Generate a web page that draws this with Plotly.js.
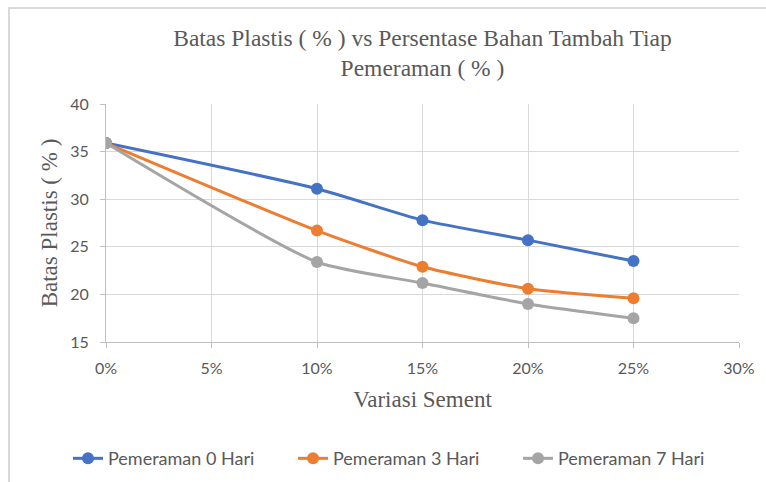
<!DOCTYPE html>
<html>
<head>
<meta charset="utf-8">
<script src="https://cdn.plot.ly/plotly-3.0.1.min.js"></script>
<style>
html,body{margin:0;padding:0;background:#fff;}
#wrap{position:relative;width:766px;height:482px;}
#chart{width:766px;height:482px;}
#frame{position:absolute;left:8px;top:7px;width:770px;height:480px;border-left:2px solid #d9d9d9;border-top:2px solid #d9d9d9;pointer-events:none;}
</style>
</head>
<body>
<div id="wrap"><div id="chart"></div><div id="frame"></div></div>
<script>
const variasi = [0, 0.10, 0.15, 0.20, 0.25];
const hari0 = [35.9, 31.1, 27.8, 25.7, 23.5];
const hari3 = [35.9, 26.7, 22.9, 20.6, 19.6];
const hari7 = [35.9, 23.4, 21.2, 19.0, 17.5];
const seriesNames = ['Pemeraman 0 Hari', 'Pemeraman 3 Hari', 'Pemeraman 7 Hari'];
const colors = ['#4472C4', '#ED7D31', '#A5A5A5'];

const data = [hari0, hari3, hari7].map((ys, i) => ({
  type: 'scatter', mode: 'lines+markers', x: variasi, y: ys, name: seriesNames[i],
  line: {color: colors[i], width: 3, shape: 'spline', smoothing: 0.6},
  marker: {color: colors[i], size: 12}
}));

const serif = '"Liberation Serif", "Times New Roman", serif';
const layout = {
  width: 766, height: 482,
  margin: {l: 106, r: 27, t: 104, b: 140, autoexpand: false},
  paper_bgcolor: '#fff', plot_bgcolor: '#fff',
  font: {family: 'Lato, "Open Sans", sans-serif', color: '#595959', size: 16},
  title: {text: 'Batas Plastis ( % ) vs Persentase Bahan Tambah Tiap<br>Pemeraman ( % )',
    font: {family: serif, size: 23.5, color: '#595959'},
    x: 0.5, xref: 'paper', y: 0.905, yanchor: 'middle'},
  xaxis: {range: [0, 0.3], dtick: 0.05, tick0: 0, tickformat: '.0%',
    showgrid: true, gridcolor: '#d9d9d9', gridwidth: 1,
    showline: true, linecolor: '#bfbfbf', linewidth: 1,
    ticks: 'outside', ticklen: 5, tickcolor: '#bfbfbf', zeroline: false,
    ticklabelstandoff: 7,
    tickfont: {size: 16, color: '#595959'},
    title: {text: 'Variasi Sement', standoff: 14,
      font: {family: serif, size: 23, color: '#595959'}}},
  yaxis: {range: [15, 40], dtick: 5, tick0: 15,
    showgrid: true, gridcolor: '#d9d9d9', gridwidth: 1,
    showline: true, linecolor: '#bfbfbf', linewidth: 1,
    ticks: 'outside', ticklen: 5, tickcolor: '#bfbfbf', zeroline: false,
    ticklabelstandoff: 8,
    tickfont: {size: 16, color: '#595959'},
    title: {text: 'Batas Plastis ( % )', standoff: 6,
      font: {family: serif, size: 23, color: '#595959'}}},
  showlegend: true,
  legend: {orientation: 'h', xref: 'paper', yref: 'paper', x: -0.06, xanchor: 'left',
    y: -0.49, yanchor: 'middle',
    font: {size: 18, color: '#595959'}, itemwidth: 30, traceorder: 'normal',
    entrywidth: 180, entrywidthmode: 'pixels'}
};

Plotly.newPlot('chart', data, layout, {displayModeBar: false, staticPlot: true});
</script>
</body>
</html>
